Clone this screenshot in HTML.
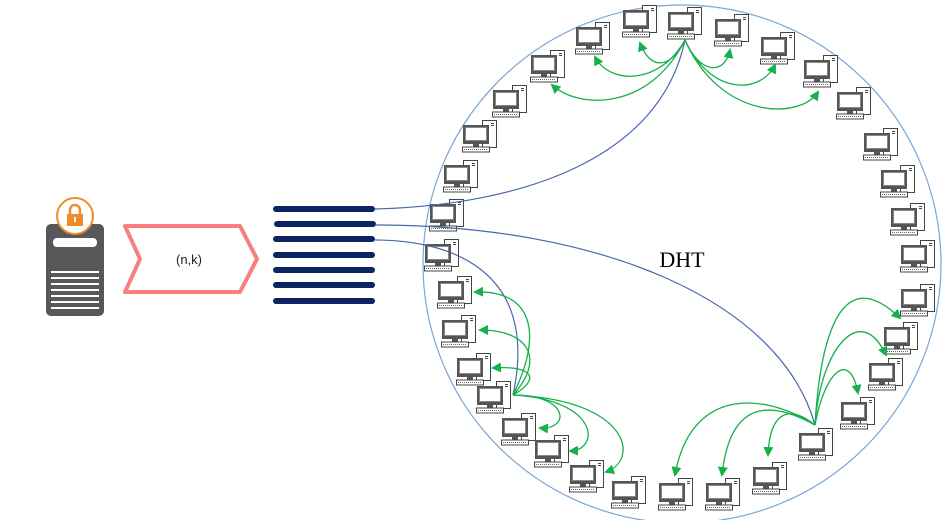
<!DOCTYPE html>
<html><head><meta charset="utf-8"><style>
html,body{margin:0;padding:0;background:#fff;width:942px;height:520px;overflow:hidden}
</style></head><body>
<svg width="942" height="520" viewBox="0 0 942 520" xmlns="http://www.w3.org/2000/svg">
<defs>
<g id="pc">
<rect x="20.5" y="0.5" width="14" height="27" fill="#fff" stroke="#444" stroke-width="1"/>
<rect x="29" y="3" width="3" height="1" fill="#444"/>
<rect x="29" y="5" width="3" height="1" fill="#444"/>
<rect x="1" y="5" width="26" height="19" fill="#555"/>
<rect x="3.5" y="7.5" width="21" height="13" fill="#fff" stroke="#888" stroke-width="1"/>
<rect x="11" y="24" width="6" height="3" fill="#555"/>
<rect x="0.5" y="27" width="27" height="5" fill="#fff" stroke="#444" stroke-width="1"/>
<line x1="2" y1="29.5" x2="26" y2="29.5" stroke="#666" stroke-dasharray="1,1"/>
</g>
<marker id="ar" markerWidth="10" markerHeight="10" refX="8" refY="5" orient="auto" markerUnits="userSpaceOnUse"><path d="M0,0 L10,5 L0,10 Z" fill="#16b04c"/></marker>
</defs>

<circle cx="682" cy="264" r="259" fill="none" stroke="#7aa6d8" stroke-width="1.2"/>

<rect x="46" y="224" width="58" height="92" rx="5" fill="#58585b"/>
<rect x="53" y="238" width="44" height="9" rx="4" fill="#fff"/>
<g fill="#fff">
<rect x="51" y="271" width="48" height="2"/><rect x="51" y="277" width="48" height="2"/>
<rect x="51" y="283" width="48" height="2"/><rect x="51" y="289" width="48" height="2"/>
<rect x="51" y="295" width="48" height="2"/><rect x="51" y="301" width="48" height="2"/>
<rect x="51" y="307" width="48" height="2"/>
</g>
<circle cx="75" cy="216" r="18" fill="#fff" stroke="#f08c28" stroke-width="2"/>
<path d="M70,215 v-5 a5,5 0 0 1 10,0 v5" fill="none" stroke="#f08c28" stroke-width="2.5"/>
<rect x="67" y="214" width="16" height="12" fill="#f08c28"/>
<rect x="74" y="217" width="2" height="5" fill="#fff"/>

<path d="M125,226 L240,226 L257,259 L240,292 L125,292 L140,259 Z" fill="#fff" stroke="#f77f7f" stroke-width="4" stroke-linejoin="round"/>
<text x="189" y="264" font-family="Liberation Sans, sans-serif" font-size="13" text-anchor="middle" fill="#222">(n,k)</text>

<g stroke="#0c2461" stroke-width="6" stroke-linecap="round">
<line x1="276" y1="209" x2="372" y2="209"/><line x1="277" y1="224" x2="373" y2="224"/>
<line x1="276" y1="239" x2="372" y2="239"/><line x1="276" y1="255" x2="372" y2="255"/>
<line x1="276" y1="270" x2="372" y2="270"/><line x1="276" y1="285" x2="372" y2="285"/>
<line x1="276" y1="301" x2="372" y2="301"/>
</g>

<text x="682" y="267" font-family="Liberation Serif, serif" font-size="22" text-anchor="middle" fill="#000">DHT</text>

<g>
<use href="#pc" x="575" y="22"/><use href="#pc" x="622" y="5"/><use href="#pc" x="667" y="7"/>
<use href="#pc" x="714" y="14"/><use href="#pc" x="760" y="32"/><use href="#pc" x="803" y="55"/>
<use href="#pc" x="836" y="87"/><use href="#pc" x="530" y="50"/><use href="#pc" x="492" y="85"/>
<use href="#pc" x="462" y="120"/><use href="#pc" x="443" y="160"/><use href="#pc" x="429" y="199"/>
<use href="#pc" x="424" y="239"/><use href="#pc" x="437" y="276"/><use href="#pc" x="441" y="315"/>
<use href="#pc" x="456" y="353"/><use href="#pc" x="476" y="381"/><use href="#pc" x="501" y="413"/>
<use href="#pc" x="534" y="435"/><use href="#pc" x="569" y="460"/><use href="#pc" x="611" y="476"/>
<use href="#pc" x="658" y="478"/><use href="#pc" x="705" y="478"/><use href="#pc" x="752" y="462"/>
<use href="#pc" x="798" y="428"/><use href="#pc" x="840" y="397"/><use href="#pc" x="868" y="358"/>
<use href="#pc" x="883" y="322"/><use href="#pc" x="900" y="284"/><use href="#pc" x="900" y="240"/>
<use href="#pc" x="890" y="203"/><use href="#pc" x="880" y="165"/><use href="#pc" x="863" y="128"/>
</g>

<g fill="none" stroke="#4a66b0" stroke-width="1.2">
<path d="M375,209 C520,205 660,160 685,40"/>
<path d="M375,225 C600,225 780,300 815,425"/>
<path d="M375,240 C450,240 540,270 513,395"/>
</g>

<g fill="none" stroke="#16b04c" stroke-width="1.3" marker-end="url(#ar)">
<path d="M685,40 C670,70 650,70 640,43"/>
<path d="M685,40 C660,85 610,85 595,57"/>
<path d="M685,40 C650,110 580,110 552,85"/>
<path d="M685,40 C700,75 725,75 730,50"/>
<path d="M685,40 C710,95 760,95 775,65"/>
<path d="M685,40 C720,120 800,120 818,92"/>
<path d="M513,395 C545,330 530,290 475,292"/>
<path d="M513,395 C545,360 530,330 480,330"/>
<path d="M513,395 C540,380 535,365 493,368"/>
<path d="M513,395 C570,395 570,430 540,428"/>
<path d="M513,395 C600,400 600,450 570,451"/>
<path d="M513,395 C630,400 640,460 606,472"/>
<path d="M815,425 C820,340 840,260 900,318"/>
<path d="M815,425 C820,350 860,300 886,355"/>
<path d="M815,425 C825,370 850,350 858,393"/>
<path d="M815,425 C760,390 690,390 675,475"/>
<path d="M815,425 C770,400 730,400 722,475"/>
<path d="M815,425 C790,405 770,410 768,455"/>
</g>
</svg>
</body></html>
